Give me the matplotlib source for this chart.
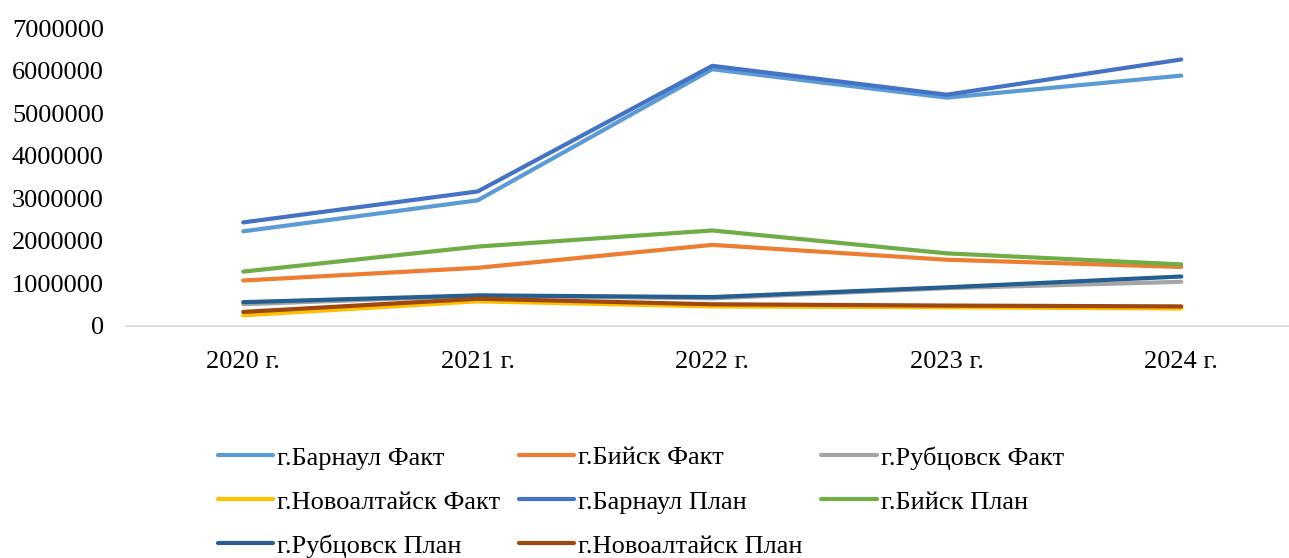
import matplotlib
matplotlib.use("Agg")
import matplotlib.pyplot as plt

years = ["2020 г.", "2021 г.", "2022 г.", "2023 г.", "2024 г."]

barnaul_fact = [2220000, 2950000, 6040000, 5370000, 5890000]
biysk_fact = [1060000, 1360000, 1900000, 1550000, 1380000]
rubtsovsk_fact = [500000, 700000, 640000, 880000, 1030000]
novoalt_fact = [240000, 570000, 450000, 430000, 400000]
barnaul_plan = [2430000, 3160000, 6120000, 5440000, 6270000]
biysk_plan = [1270000, 1860000, 2240000, 1700000, 1440000]
rubtsovsk_plan = [550000, 710000, 670000, 900000, 1155000]
novoalt_plan = [320000, 630000, 500000, 470000, 450000]

series = [
    ("г.Барнаул Факт", barnaul_fact, "#5B9BD5"),
    ("г.Бийск Факт", biysk_fact, "#ED7D31"),
    ("г.Рубцовск Факт", rubtsovsk_fact, "#A5A5A5"),
    ("г.Новоалтайск Факт", novoalt_fact, "#FFC000"),
    ("г.Барнаул План", barnaul_plan, "#4472C4"),
    ("г.Бийск План", biysk_plan, "#70AD47"),
    ("г.Рубцовск План", rubtsovsk_plan, "#255E91"),
    ("г.Новоалтайск План", novoalt_plan, "#9E480E"),
]

plt.rcParams['font.family'] = ['Liberation Serif', 'DejaVu Serif']

W, H = 1289, 558
fig = plt.figure(figsize=(W / 100, H / 100), dpi=100)
left = 126 / W
bottom = (H - 325.5) / H
top = (H - 28.5) / H
ax = fig.add_axes([left, bottom, 1 - left, top - bottom])

x = list(range(len(years)))
handles = []
for name, vals, col in series:
    h, = ax.plot(x, vals, color=col, lw=3.0, label=name, solid_capstyle='round')
    handles.append(h)

ax.set_xlim(-0.5, -0.5 + (W - 126) / 234.5)
ax.set_ylim(0, 7000000)
ax.set_yticks(range(0, 7000001, 1000000))
ax.set_yticklabels([str(v) for v in range(0, 7000001, 1000000)])
ax.set_xticks(x)
ax.set_xticklabels(years)
ax.tick_params(axis='both', length=0, labelsize=19)
ax.tick_params(axis='y', pad=16)
ax.tick_params(axis='x', pad=18)
for s in ['top', 'right', 'left']:
    ax.spines[s].set_visible(False)
ax.spines['bottom'].set_color('#D9D9D9')
ax.spines['bottom'].set_linewidth(1.2)

# row-major ordering for a 3-column legend
order = [0, 3, 6, 1, 4, 7, 2, 5]
fig.legend([handles[i] for i in order], [series[i][0] for i in order],
           loc='upper left', bbox_to_anchor=(218 / W, 1 - 446 / H), ncol=3,
           frameon=False, fontsize=19, handlelength=2.1, handletextpad=0.15,
           columnspacing=0.7, labelspacing=0.78, borderaxespad=0, borderpad=0)

fig.savefig("out.png", dpi=100)
